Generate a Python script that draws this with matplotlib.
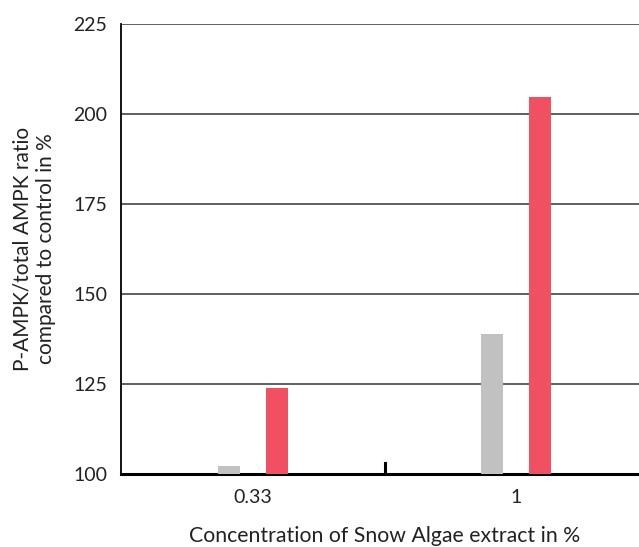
import numpy as np
import matplotlib.pyplot as plt

plt.rcParams['font.family'] = ['Lato', 'DejaVu Sans']

categories = ['0.33', '1']
gray_vals = [102.3, 138.9]
red_vals = [123.9, 204.7]

fig = plt.figure(figsize=(6.39, 5.47), dpi=100)
ax = fig.add_axes([121/639, 1 - 474/547, 527/639, 450/547])

x = np.arange(len(categories))
w = 0.084
off = 0.091
ax.bar(x - off, gray_vals, w, color='#c1c1c1', zorder=3)
ax.bar(x + off, red_vals, w, color='#f05061', zorder=3)

ax.set_ylim(100, 225)
ax.set_xlim(-0.502, 1.502)
ax.set_yticks([100, 125, 150, 175, 200, 225])
ax.yaxis.grid(True, color='#444444', linewidth=1.2, zorder=1)
ax.tick_params(axis='y', length=0, labelsize=14, pad=10, colors='#222222')

ax.set_xticks(x)
ax.set_xticklabels(categories)
ax.tick_params(axis='x', length=0, labelsize=14, pad=11, colors='#222222')
ax.axvline(0.5, ymin=0, ymax=11/450, color='black', linewidth=2.2, zorder=4)

for s in ['top', 'right']:
    ax.spines[s].set_visible(False)
ax.spines['left'].set_linewidth(1.3)
ax.spines['bottom'].set_linewidth(2.2)
ax.spines['left'].set_color('black')
ax.spines['bottom'].set_color('black')

ax.set_ylabel('P-AMPK/total AMPK ratio\ncompared to control in %', fontsize=15,
              labelpad=12, color='#222222', multialignment='center', linespacing=1.25)
ax.set_xlabel('Concentration of Snow Algae extract in %', fontsize=15.3,
              labelpad=14, color='#222222')

fig.savefig('out.png', dpi=100)
